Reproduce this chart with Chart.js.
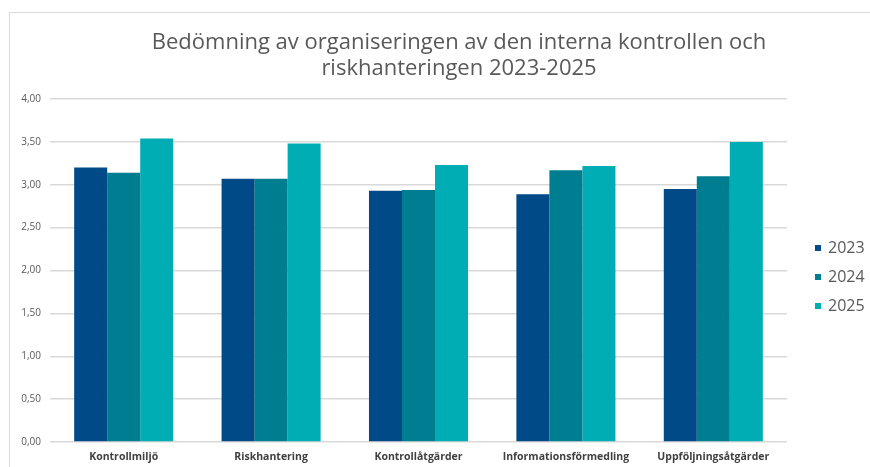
<!DOCTYPE html>
<html>
<head>
<meta charset="utf-8">
<script src="https://cdn.jsdelivr.net/npm/chart.js@4/dist/chart.umd.min.js"></script>
<style>
    html, body { margin: 0; padding: 0; background: #fff; }
    #wrap {
        position: absolute;
        left: 9px;
        top: 12px;
        width: 861px;
        height: 455px;
        border-left: 1px solid #d9d9d9;
        border-top: 1px solid #d9d9d9;
    }
    #chart { display: block; }
</style>
</head>
<body>
<div id="wrap"><canvas id="chart" width="860" height="454"></canvas></div>
<script>
// Categories and series
const categories = ['Kontrollmiljö', 'Riskhantering', 'Kontrollåtgärder', 'Informationsförmedling', 'Uppföljningsåtgärder'];
const years = ['2023', '2024', '2025'];
const values2023 = [3.20, 3.07, 2.93, 2.89, 2.95];
const values2024 = [3.14, 3.07, 2.94, 3.17, 3.10];
const values2025 = [3.54, 3.48, 3.23, 3.22, 3.50];
const titleLines = ['Bedömning av organiseringen av den interna kontrollen och', 'riskhanteringen 2023-2025'];

// Colors
const colors = {
    y2023: 'rgb(0, 74, 135)',
    y2024: 'rgb(0, 126, 145)',
    y2025: 'rgb(0, 173, 180)',
    grid: '#d9d9d9',
    text: '#595959',
    label: '#404040'
};

const fontFamily = '"Open Sans", "DejaVu Sans", sans-serif';

// Title drawn over the chart, slightly right of center like the original
const titlePlugin = {
    id: 'customTitle',
    afterDraw(chart) {
        const ctx = chart.ctx;
        ctx.save();
        ctx.fillStyle = colors.text;
        ctx.font = '22px ' + fontFamily;
        ctx.textAlign = 'center';
        ctx.textBaseline = 'middle';
        titleLines.forEach((line, i) => ctx.fillText(line, 449, 30 + i * 26));
        ctx.restore();
    }
};

// Vertical legend on the right
const legendPlugin = {
    id: 'customLegend',
    afterDraw(chart) {
        const ctx = chart.ctx;
        const x = chart.chartArea.right + 28;
        ctx.save();
        ctx.font = '16px ' + fontFamily;
        ctx.textBaseline = 'middle';
        chart.data.datasets.forEach((ds, i) => {
            const y = 235 + i * 29;
            ctx.fillStyle = ds.backgroundColor;
            ctx.fillRect(x, y - 3, 6, 6);
            ctx.fillStyle = colors.text;
            ctx.fillText(ds.label, x + 13, y);
        });
        ctx.restore();
    }
};

new Chart(document.getElementById('chart'), {
    type: 'bar',
    data: {
        labels: categories,
        datasets: [
            { label: years[0], data: values2023, backgroundColor: colors.y2023 },
            { label: years[1], data: values2024, backgroundColor: colors.y2024 },
            { label: years[2], data: values2025, backgroundColor: colors.y2025 }
        ]
    },
    options: {
        responsive: false,
        animation: false,
        categoryPercentage: 0.672,
        barPercentage: 1.0,
        layout: {
            padding: { top: 86, right: 83, bottom: 0, left: 0 }
        },
        plugins: {
            legend: { display: false },
            title: { display: false },
            tooltip: { enabled: false }
        },
        scales: {
            x: {
                grid: { display: false, drawTicks: false },
                border: { display: false },
                ticks: {
                    color: colors.label,
                    padding: 9,
                    maxRotation: 0,
                    autoSkip: false,
                    font: { family: fontFamily, size: 10.5, weight: 'bold' }
                },
                afterFit(scale) { scale.height = 25; }
            },
            y: {
                min: 0,
                max: 4,
                grid: { color: colors.grid, lineWidth: 1.5, drawTicks: false },
                border: { display: false },
                ticks: {
                    stepSize: 0.5,
                    color: colors.text,
                    padding: 9,
                    font: { family: fontFamily, size: 10 },
                    callback: value => value.toFixed(2).replace('.', ',')
                },
                afterFit(scale) { scale.width = 40; }
            }
        }
    },
    plugins: [titlePlugin, legendPlugin]
});
</script>
</body>
</html>
